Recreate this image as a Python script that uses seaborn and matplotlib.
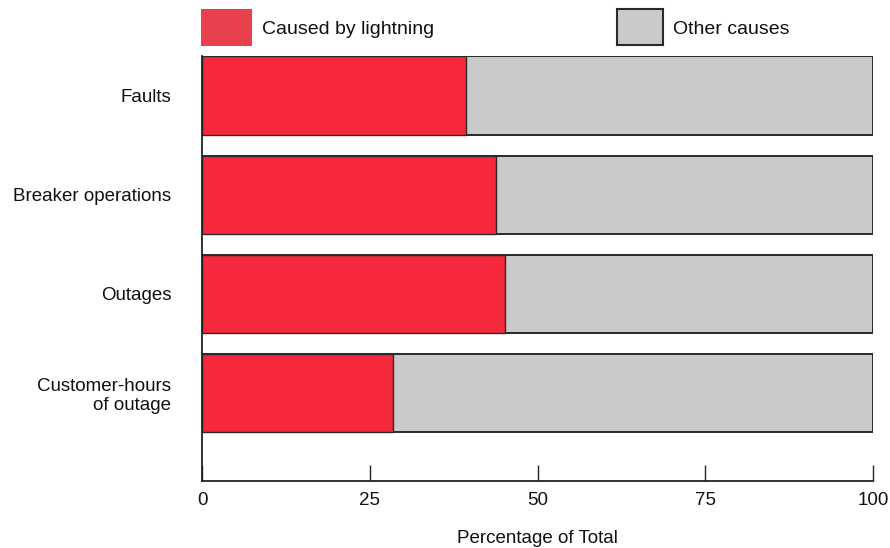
import matplotlib
matplotlib.use("Agg")
import matplotlib.pyplot as plt
import seaborn as sns
import pandas as pd
from matplotlib.patches import Rectangle

categories = ["Faults", "Breaker operations", "Outages", "Customer-hours\nof outage"]
lightning = [39.3, 43.8, 45.1, 28.5]
total = [100, 100, 100, 100]
xticks = [0, 25, 50, 75, 100]
legend_labels = ["Caused by lightning", "Other causes"]

RED = "#F5283C"
GREY = "#C9CBCB"
EDGE = "#2a2a2a"
TXT = "#111111"

sns.set_theme(style="white")
plt.rcParams["font.family"] = ["Liberation Sans", "DejaVu Sans"]
plt.rcParams["text.color"] = TXT
plt.rcParams["xtick.color"] = TXT
plt.rcParams["ytick.color"] = TXT
plt.rcParams["axes.labelcolor"] = TXT

df = pd.DataFrame({"cat": categories, "light": lightning, "total": total})

fig = plt.figure(figsize=(8.9, 5.48), dpi=100)
ax = fig.add_axes([202/890, 1-481/548, (873-202)/890, (481-56)/548])

sns.barplot(data=df, x="total", y="cat", color=GREY, edgecolor=EDGE,
            linewidth=1.4, width=0.79, saturation=1, ax=ax, orient="h")
sns.barplot(data=df, x="light", y="cat", color=RED, edgecolor=EDGE,
            linewidth=1.0, width=0.79, saturation=1, ax=ax, orient="h")

ax.set_xlim(0, 100)
ax.set_ylim(3.89, -0.40)
ax.set_xticks(xticks)
ax.set_xticklabels([str(t) for t in xticks], fontsize=13.5)
ax.tick_params(axis="x", direction="in", length=11.5, width=1.0, color="#222222",
               pad=8, bottom=True)
ax.tick_params(axis="y", length=0, labelsize=13.5, pad=22)
for lab in ax.get_yticklabels():
    lab.set_horizontalalignment("right")
    lab.set_multialignment("right")
ax.set_ylabel("")
ax.set_xlabel("Percentage of Total", fontsize=13.5, labelpad=15)

for s in ["top", "right"]:
    ax.spines[s].set_visible(False)
for s in ["left", "bottom"]:
    ax.spines[s].set_visible(True)
    ax.spines[s].set_color("#222222")
    ax.spines[s].set_linewidth(1.3)

# legend
fig.add_artist(Rectangle((201/890, 1-46/548), 51/890, 37/548, transform=fig.transFigure,
                         facecolor="#E8404C", edgecolor="none"))
fig.text(262/890, 1-29/548, legend_labels[0], fontsize=14, va="center", ha="left")
fig.add_artist(Rectangle((617/890, 1-45/548), 46/890, 36/548, transform=fig.transFigure,
                         facecolor=GREY, edgecolor=EDGE, linewidth=1.5))
fig.text(673/890, 1-29/548, legend_labels[1], fontsize=14, va="center", ha="left")

fig.savefig("out.png", dpi=100)
